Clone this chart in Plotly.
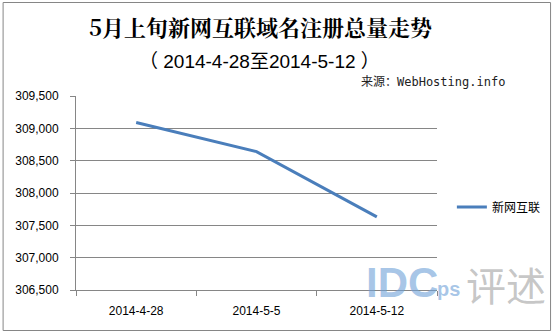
import plotly.graph_objects as go

categories = ["2014-4-28", "2014-5-5", "2014-5-12"]
values = [309090, 308640, 307630]
series_name = "新网互联"
title = "5月上旬新网互联域名注册总量走势"
subtitle = "（ 2014-4-28至2014-5-12 ）"
source = "来源：WebHosting.info"

W, H = 558, 334
L, R, T, B = 76, 440, 96, 290
pw, ph = R - L, B - T

def px(x):
    return (x - L) / pw

def py(y):
    return (B - y) / ph

fig = go.Figure()
fig.add_trace(go.Scatter(
    x=categories, y=values, mode="lines", name=series_name,
    line=dict(color="#4a7ebb", width=3),
))

fig.update_layout(
    width=W, height=H,
    margin=dict(l=L, r=W - R, t=T, b=H - B),
    paper_bgcolor="white", plot_bgcolor="white",
    showlegend=True,
    legend=dict(x=px(455), y=py(207), xanchor="left", yanchor="middle",
                font=dict(family="Noto Sans CJK SC", size=12, color="black"),
                bgcolor="rgba(0,0,0,0)", itemwidth=30),
    font=dict(family="Liberation Sans, Arial", size=12, color="black"),
)

fig.update_xaxes(
    type="category", showgrid=False, showline=True, linecolor="#868686", linewidth=1,
    ticks="outside", tickson="boundaries", ticklen=5, tickcolor="#868686",
    ticklabelstandoff=10,
    tickfont=dict(family="Liberation Sans, Arial", size=12, color="black"),
    range=[-0.5, 2.5], fixedrange=True,
)
fig.update_yaxes(
    range=[306500, 309500], dtick=500, tickformat=",",
    showgrid=True, gridcolor="#868686", gridwidth=1,
    showline=True, linecolor="#868686", linewidth=1,
    ticks="outside", ticklen=5, tickcolor="#868686",
    ticklabelstandoff=9,
    tickfont=dict(family="Liberation Sans, Arial", size=12, color="black"),
    zeroline=False,
)

annotations = [
    dict(text="<b>" + title + "</b>", x=px(262), y=py(27), xref="paper", yref="paper",
         showarrow=False, xanchor="center", yanchor="middle",
         font=dict(family="Noto Serif CJK SC, Noto Sans CJK SC", size=22, color="black")),
    dict(text=subtitle, x=px(261), y=py(62), xref="paper", yref="paper",
         showarrow=False, xanchor="center", yanchor="middle",
         font=dict(family="Liberation Sans, Noto Sans CJK SC", size=19, color="black")),
    dict(text=source, x=px(511), y=py(82), xref="paper", yref="paper",
         showarrow=False, xanchor="right", yanchor="middle",
         font=dict(family="DejaVu Sans Mono, Noto Sans CJK SC", size=12, color="#222222")),
    dict(text="<b>IDC</b>", x=px(366), y=py(282), xref="paper", yref="paper",
         showarrow=False, xanchor="left", yanchor="middle",
         font=dict(family="Liberation Sans", size=42, color="rgba(110,160,215,0.6)")),
    dict(text="<b>ps</b>", x=px(438), y=py(289), xref="paper", yref="paper",
         showarrow=False, xanchor="left", yanchor="middle",
         font=dict(family="Liberation Sans", size=20, color="rgba(110,160,215,0.6)")),
    dict(text="评述", x=px(510), y=py(284), xref="paper", yref="paper",
         showarrow=False, xanchor="center", yanchor="middle",
         font=dict(family="Noto Sans CJK SC", size=40, color="rgba(150,150,150,0.55)")),
]
fig.update_layout(annotations=annotations)

fig.add_shape(type="rect", xref="paper", yref="paper",
              x0=px(2.5), x1=px(554.5), y0=py(330.5), y1=py(2.5),
              line=dict(color="#868686", width=1), fillcolor="rgba(0,0,0,0)", layer="below")

fig.write_html("out.html")
